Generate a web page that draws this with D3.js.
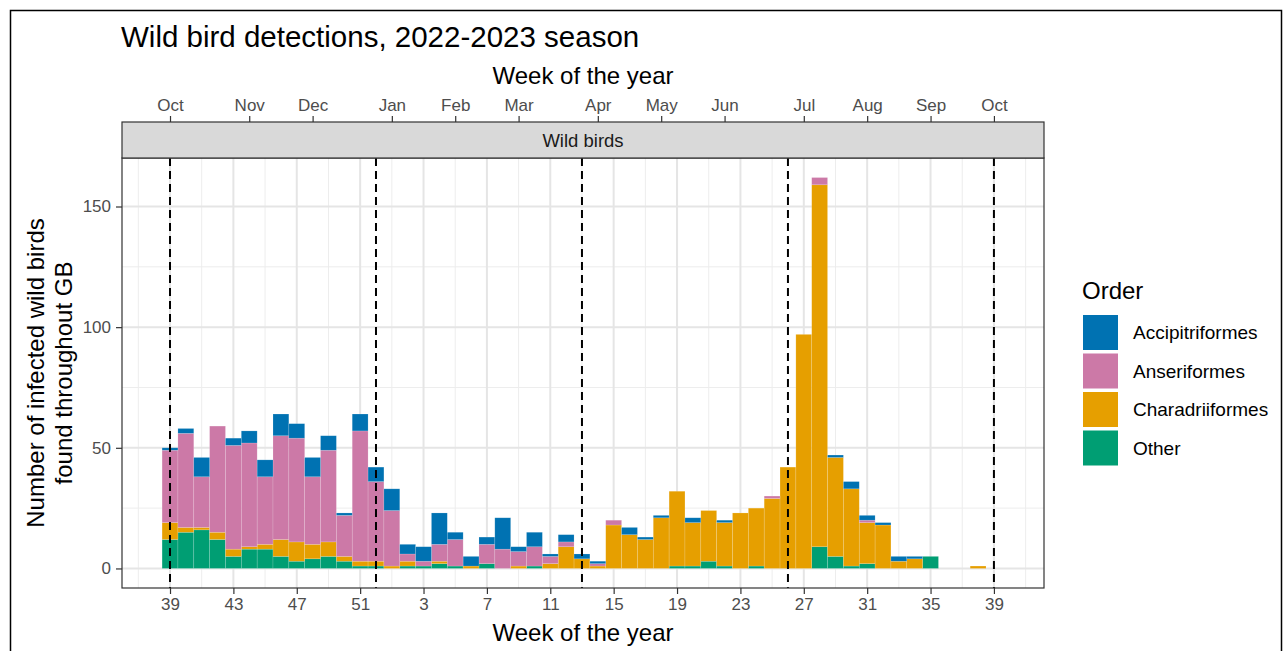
<!DOCTYPE html>
<html>
<head>
<meta charset="utf-8">
<script src="https://cdn.jsdelivr.net/npm/d3@7"></script>
<style>
  html, body { margin: 0; padding: 0; background: #fff; }
  svg { display: block; font-family: "Liberation Sans", Arial, sans-serif; }
</style>
</head>
<body>
<svg id="chart" width="1284" height="651"></svg>
<script>
// ---- data ----
const weeks = [39,40,41,42,43,44,45,46,47,48,49,50,51,52,
  1,2,3,4,5,6,7,8,9,10,11,12,13,14,15,16,17,18,19,20,21,22,23,24,25,26,27,28,29,30,31,32,33,34,35,36,37,38,39];
const other        = [12,15,16,12,5,8,8,5,3,4,5,3,1,1, 0,1,1,2,1,0,2,0,0,1,0,0,0,0,0,0,0,0,1,1,3,1,0,1,0,0,0,9,5,1,2,0,0,0,5,0,0,0,0];
const charadrii    = [7,2,1,3,3,1,2,7,8,6,6,2,2,2, 1,2,0,1,0,1,0,0,1,0,2,9,4,1,18,14,12,21,31,18,21,18,23,24,29,42,97,150,41,32,17,18,3,4,0,0,0,1,0];
const anseri       = [30,39,21,44,43,43,28,43,43,28,38,17,54,33, 23,3,2,7,11,0,8,8,6,8,3,2,0,1,2,0,0,0,0,0,0,0,0,0,1,0,0,3,0,0,1,0,0,0,0,0,0,0,0];
const accipitri    = [1,2,8,0,3,5,7,9,6,8,6,1,7,6, 9,4,6,13,3,4,3,13,2,6,1,3,2,1,0,3,1,1,0,2,0,1,0,0,0,0,0,0,1,3,2,1,2,1,0,0,0,0,0];
const seriesNames  = ["Accipitriformes","Anseriformes","Charadriiformes","Other"];
const seriesColors = ["#0072B2","#CC79A7","#E69F00","#009E73"];
const bottomTickIdx = [0,4,8,12,16,20,24,28,32,36,40,44,48,52];
const monthLabels = ["Oct","Nov","Dec","Jan","Feb","Mar","Apr","May","Jun","Jul","Aug","Sep","Oct"];
const monthIdx    = [0,5,9,14,18,22,27,31,35,40,44,48,52];
const dashedIdx   = [0,13,26,39,52];
const yTicks = [0,50,100,150];
const yMinor = [25,75,125];

// ---- layout ----
const svg = d3.select("#chart");
const P = {left:122, right:1044, top:158, bottom:588};
const x = d3.scaleLinear().domain([-3.03, 55.16]).range([P.left, P.right]);
const y = d3.scaleLinear().domain([-8.1, 170.1]).range([P.bottom, P.top]);
const textCol = "#4d4d4d";
const FONT = "Liberation Sans, Arial, sans-serif";

// outer frame
svg.append("rect").attr("x",10.5).attr("y",10.5).attr("width",1271).attr("height",660)
  .attr("fill","none").attr("stroke","#000").attr("stroke-width",1.5);

// title
svg.append("text").attr("x",121).attr("y",47).attr("font-size",29.5).attr("fill","#000")
  .text("Wild bird detections, 2022-2023 season");

// panel background & grid
const g = svg.append("g");
g.append("rect").attr("x",P.left).attr("y",P.top).attr("width",P.right-P.left).attr("height",P.bottom-P.top).attr("fill","#fff");
const minorX = bottomTickIdx.slice(0,-1).map(d=>d+2).concat([-2, 54]);
g.selectAll(".mx").data(minorX).enter().append("line")
  .attr("x1",d=>x(d)).attr("x2",d=>x(d)).attr("y1",P.top).attr("y2",P.bottom)
  .attr("stroke","#ededed").attr("stroke-width",1);
g.selectAll(".my").data(yMinor).enter().append("line")
  .attr("x1",P.left).attr("x2",P.right).attr("y1",d=>y(d)).attr("y2",d=>y(d))
  .attr("stroke","#ededed").attr("stroke-width",1);
g.selectAll(".Mx").data(bottomTickIdx).enter().append("line")
  .attr("x1",d=>x(d)).attr("x2",d=>x(d)).attr("y1",P.top).attr("y2",P.bottom)
  .attr("stroke","#e5e5e5").attr("stroke-width",2);
g.selectAll(".My").data(yTicks).enter().append("line")
  .attr("x1",P.left).attr("x2",P.right).attr("y1",d=>y(d)).attr("y2",d=>y(d))
  .attr("stroke","#e5e5e5").attr("stroke-width",2);

// stacked bars
const rows = weeks.map((w,i)=>({i, Other:other[i], Charadriiformes:charadrii[i], Anseriformes:anseri[i], Accipitriformes:accipitri[i]}));
const stackKeys = ["Other","Charadriiformes","Anseriformes","Accipitriformes"];
const stacked = d3.stack().keys(stackKeys)(rows);
const colorOf = k => seriesColors[seriesNames.indexOf(k)];
const bw = x(1)-x(0);
stacked.forEach(layer=>{
  g.selectAll(null).data(layer.filter(d=>d[1]>d[0])).enter().append("rect")
    .attr("x",d=>x(d.data.i)-bw/2).attr("width",bw)
    .attr("y",d=>y(d[1])).attr("height",d=>y(d[0])-y(d[1]))
    .attr("fill",colorOf(layer.key))
    .attr("stroke","#ffffff").attr("stroke-opacity",0.25).attr("stroke-width",0.6);
});

// dashed lines
g.selectAll(".dash").data(dashedIdx).enter().append("line")
  .attr("x1",d=>x(d)).attr("x2",d=>x(d)).attr("y1",P.top).attr("y2",P.bottom)
  .attr("stroke","#000").attr("stroke-width",2).attr("stroke-dasharray","8,5");

// panel border
g.append("rect").attr("x",P.left).attr("y",P.top).attr("width",P.right-P.left).attr("height",P.bottom-P.top)
  .attr("fill","none").attr("stroke","#333").attr("stroke-width",1.2);

// strip
svg.append("rect").attr("x",P.left).attr("y",122).attr("width",P.right-P.left).attr("height",P.top-122)
  .attr("fill","#d9d9d9").attr("stroke","#333").attr("stroke-width",1.2);
svg.append("text").attr("x",(P.left+P.right)/2).attr("y",147).attr("text-anchor","middle")
  .attr("font-size",18.5).attr("fill","#1a1a1a").text("Wild birds");

// bottom axis
const xAxisB = d3.axisBottom(x).tickValues(bottomTickIdx).tickSize(6).tickPadding(4)
  .tickFormat(d=>weeks[d]);
const gb = svg.append("g").attr("transform",`translate(0,${P.bottom})`).call(xAxisB);
gb.select(".domain").remove();
gb.selectAll(".tick line").attr("stroke","#333").attr("stroke-width",1.2);
gb.selectAll(".tick text").attr("font-size",17).attr("fill",textCol).attr("font-family",FONT);

// top axis (months)
const xAxisT = d3.axisTop(x).tickValues(monthIdx).tickSize(6).tickPadding(5)
  .tickFormat((d,i)=>monthLabels[i]);
const gt = svg.append("g").attr("transform",`translate(0,122)`).call(xAxisT);
gt.select(".domain").remove();
gt.selectAll(".tick line").attr("stroke","#333").attr("stroke-width",1.2);
gt.selectAll(".tick text").attr("font-size",17).attr("fill",textCol).attr("font-family",FONT);

// y axis
const yAxis = d3.axisLeft(y).tickValues(yTicks).tickSize(6).tickPadding(5);
const gy = svg.append("g").attr("transform",`translate(${P.left},0)`).call(yAxis);
gy.select(".domain").remove();
gy.selectAll(".tick line").attr("stroke","#333").attr("stroke-width",1.2);
gy.selectAll(".tick text").attr("font-size",17).attr("fill",textCol).attr("font-family",FONT);

// axis titles
svg.append("text").attr("x",(P.left+P.right)/2).attr("y",641).attr("text-anchor","middle")
  .attr("font-size",24).attr("fill","#000").text("Week of the year");
svg.append("text").attr("x",(P.left+P.right)/2).attr("y",84).attr("text-anchor","middle")
  .attr("font-size",24).attr("fill","#000").text("Week of the year");
const yt = svg.append("text").attr("transform",`translate(0,${(P.top+P.bottom)/2}) rotate(-90)`)
  .attr("text-anchor","middle").attr("font-size",24).attr("fill","#000");
yt.append("tspan").attr("x",0).attr("y",44).text("Number of infected wild birds");
yt.append("tspan").attr("x",0).attr("y",72).text("found throughout GB");

// legend
const lg = svg.append("g");
lg.append("text").attr("x",1082).attr("y",299).attr("font-size",24).attr("fill","#000").text("Order");
seriesNames.forEach((n,i)=>{
  const yy = 315 + i*38.5;
  lg.append("rect").attr("x",1083).attr("y",yy).attr("width",35).attr("height",35).attr("fill",seriesColors[i]);
  lg.append("text").attr("x",1133).attr("y",yy+24).attr("font-size",19).attr("fill","#000").text(n);
});
</script>
</body>
</html>
